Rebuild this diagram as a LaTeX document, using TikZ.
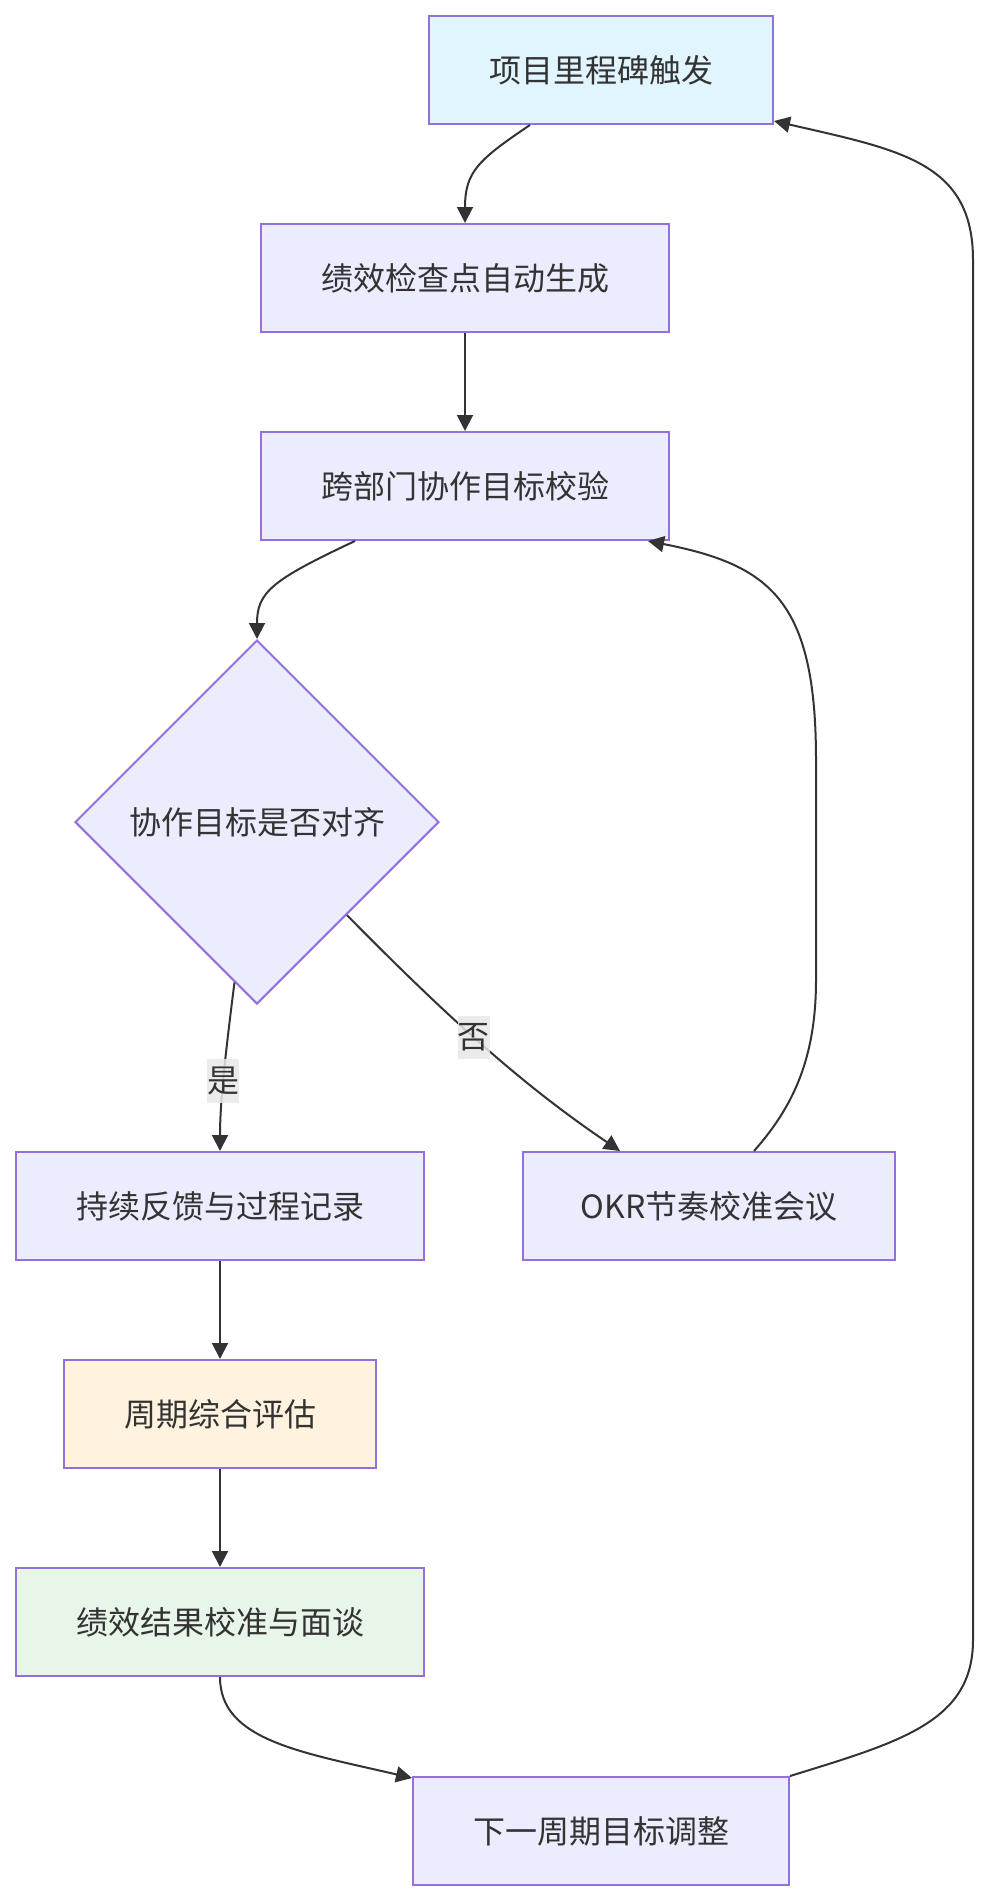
\documentclass[tikz,border=0pt]{standalone}
\usepackage{fontspec}
\setmainfont{Noto Sans CJK SC}
\usetikzlibrary{arrows.meta,shapes.geometric}

\definecolor{boxborder}{HTML}{9370DB}
\definecolor{boxfill}{HTML}{ECECFF}
\definecolor{startfill}{HTML}{E1F5FE}
\definecolor{evalfill}{HTML}{FFF3E0}
\definecolor{resultfill}{HTML}{E8F5E9}
\definecolor{inkgray}{HTML}{333333}
\definecolor{labelbg}{HTML}{E8E8E8}

\tikzset{
  stepbox/.style={draw=boxborder, fill=boxfill, line width=2pt, text=inkgray,
    inner xsep=60pt, minimum height=108pt, font=\fontsize{32}{38}\selectfont},
  decision/.style={diamond, draw=boxborder, fill=boxfill, line width=2pt, text=inkgray,
    minimum width=364pt, minimum height=364pt, inner sep=0pt, font=\fontsize{32}{38}\selectfont},
  flow/.style={draw=inkgray, line width=2pt, -{Triangle[length=16pt,width=16pt]}},
  lbl/.style={fill=labelbg, fill opacity=0.85, text opacity=1, text=inkgray,
    inner xsep=0pt, inner ysep=8pt, font=\fontsize{32}{38}\selectfont}
}

\begin{document}
\begin{tikzpicture}[x=1pt, y=-1pt]
        % --- CANVAS ---
        \useasboundingbox (0,0) rectangle (989,1900);

        % --- NODES ---
        \node[stepbox, fill=startfill] (trigger) at (601,70) {项目里程碑触发};
        \node[stepbox] (checkpoint) at (465,278) {绩效检查点自动生成};
        \node[stepbox] (verify) at (465,486) {跨部门协作目标校验};
        \node[decision] (aligned) at (257,822) {协作目标是否对齐};
        \node[stepbox] (feedback) at (220,1206) {持续反馈与过程记录};
        \node[stepbox, inner xsep=58pt] (okrmeet) at (709,1206) {OKR节奏校准会议};
        \node[stepbox, fill=evalfill] (review) at (220,1414) {周期综合评估};
        \node[stepbox, fill=resultfill] (result) at (220,1622) {绩效结果校准与面谈};
        \node[stepbox] (nextgoal) at (601,1831) {下一周期目标调整};

        % --- MAIN CHAIN ---
        \draw[flow] ([xshift=-71pt]trigger.south) .. controls (478,160) and (465,172) .. (checkpoint.north);
        \draw[flow] (checkpoint) -- (verify);
        \draw[flow] ([xshift=-110pt]verify.south) .. controls (272,580) and (257,592) .. (aligned.north);

        % --- DECISION ---
        \draw[flow] (aligned.-98) .. controls (226,1050) and (220,1100) .. (feedback.north)
            node[lbl, pos=0.55] {是};
        \draw[flow] (aligned.-46) .. controls (460,1030) and (530,1090) .. ([xshift=-89pt]okrmeet.north)
            node[lbl, pos=0.43] {否};

        % Loop back to verification
        \draw[flow] ([xshift=45pt]okrmeet.north) .. controls (792,1108) and (816,1060) .. (816,980)
            -- (816,760) .. controls (816,600) and (770,565) .. ([xshift=183pt]verify.south);

        % --- EVALUATION CHAIN ---
        \draw[flow] (feedback) -- (review);
        \draw[flow] (review) -- (result);
        \draw[flow] (result.south) .. controls (220,1740) and (300,1752) .. ([yshift=-2pt]nextgoal.north west);

        % Loop back to milestone trigger
        \draw[flow] (nextgoal.north east) .. controls (900,1742) and (973,1722) .. (973,1640)
            -- (973,260) .. controls (973,162) and (900,150) .. ([yshift=4pt]trigger.south east);

    \end{tikzpicture}
\end{document}
